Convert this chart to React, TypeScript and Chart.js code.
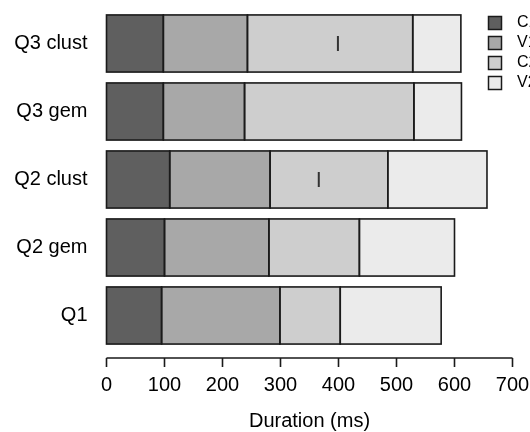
import React, { useEffect, useRef } from 'react';
import { Chart, registerables } from 'chart.js';

Chart.register(...registerables);

const categories = ['Q3 clust', 'Q3 gem', 'Q2 clust', 'Q2 gem', 'Q1'];
const seriesNames = ['C1', 'V1', 'C2', 'V2'];
const c1Values = [98, 98, 109, 100, 95];
const v1Values = [145, 140, 173, 180, 204];
const c2Values = [285, 292, 203, 156, 104];
const v2Values = [83, 82, 171, 164, 174];
const errorMarks: (number | null)[] = [399, null, 366, null, null];
const xTickValues = [0, 100, 200, 300, 400, 500, 600, 700];
const seriesColors = ['#5f5f5f', '#a8a8a8', '#cecece', '#ebebeb'];

const FONT = "'Liberation Sans', Arial, Helvetica, sans-serif";

const drawPlugin = {
  id: 'rstyle',
  afterDatasetsDraw(chart: any) {
    const ctx = chart.ctx as CanvasRenderingContext2D;
    const xs = chart.scales.x;
    const ys = chart.scales.y;
    ctx.save();
    // bar outlines
    ctx.strokeStyle = '#1a1a1a';
    ctx.lineWidth = 1.6;
    chart.data.datasets.forEach((_: any, i: number) => {
      const meta = chart.getDatasetMeta(i);
      meta.data.forEach((el: any) => {
        const { x, y, base, height } = el.getProps(['x', 'y', 'base', 'height'], true);
        ctx.strokeRect(Math.min(base, x), y - height / 2, Math.abs(x - base), height);
      });
    });
    // error marks
    ctx.strokeStyle = '#333';
    ctx.lineWidth = 2;
    errorMarks.forEach((v, i) => {
      if (v == null) return;
      const px = xs.getPixelForValue(v);
      const py = ys.getPixelForValue(i);
      ctx.beginPath();
      ctx.moveTo(px, py - 7.5);
      ctx.lineTo(px, py + 7.5);
      ctx.stroke();
    });
    // x axis line with ticks
    const ay = chart.chartArea.bottom + 8.5;
    ctx.strokeStyle = '#1a1a1a';
    ctx.lineWidth = 1.6;
    ctx.beginPath();
    ctx.moveTo(xs.getPixelForValue(xTickValues[0]), ay);
    ctx.lineTo(xs.getPixelForValue(xTickValues[xTickValues.length - 1]), ay);
    xTickValues.forEach((v) => {
      const px = xs.getPixelForValue(v);
      ctx.moveTo(px, ay);
      ctx.lineTo(px, ay + 9);
    });
    ctx.stroke();
    // legend
    ctx.font = `16px ${FONT}`;
    ctx.textBaseline = 'middle';
    ctx.textAlign = 'left';
    seriesNames.forEach((name, i) => {
      const cy = 23 + i * 20;
      ctx.fillStyle = seriesColors[i];
      ctx.fillRect(488.5, cy - 6.5, 13, 13);
      ctx.strokeStyle = '#1a1a1a';
      ctx.lineWidth = 1.5;
      ctx.strokeRect(488.5, cy - 6.5, 13, 13);
      ctx.fillStyle = '#000';
      ctx.fillText(name, 517, cy);
    });
    ctx.restore();
  },
};

export default function App() {
  const canvasRef = useRef<HTMLCanvasElement | null>(null);

  useEffect(() => {
    if (!canvasRef.current) return;
    const seriesData = [c1Values, v1Values, c2Values, v2Values];
    const chart = new Chart(canvasRef.current, {
      type: 'bar',
      data: {
        labels: categories,
        datasets: seriesNames.map((name, i) => ({
          label: name,
          data: seriesData[i],
          backgroundColor: seriesColors[i],
          borderWidth: 0,
          barPercentage: 0.84,
          categoryPercentage: 1,
        })),
      },
      options: {
        indexAxis: 'y',
        responsive: false,
        animation: false,
        devicePixelRatio: 1,
        events: [],
        layout: { padding: { top: 9.5, right: 17.5, bottom: 0, left: 0 } },
        plugins: {
          legend: { display: false },
          tooltip: { enabled: false },
        },
        scales: {
          x: {
            type: 'linear',
            stacked: true,
            min: 0,
            max: 700,
            grid: { display: false, drawTicks: false },
            border: { display: false },
            afterBuildTicks: (axis: any) => {
              axis.ticks = xTickValues.map((v) => ({ value: v }));
            },
            afterFit: (axis: any) => {
              axis.height = 82.5;
              axis.paddingLeft = 0;
              axis.paddingRight = 0;
            },
            ticks: {
              padding: 23.5,
              color: '#000',
              maxRotation: 0,
              font: { family: FONT, size: 20 },
            },
            title: {
              display: true,
              text: 'Duration (ms)',
              color: '#000',
              font: { family: FONT, size: 20, lineHeight: 1 },
              padding: { top: 0, bottom: 1 },
            },
          },
          y: {
            type: 'category',
            stacked: true,
            grid: { display: false, drawTicks: false },
            border: { display: false },
            afterFit: (axis: any) => {
              axis.width = 106.5;
              axis.paddingTop = 0;
              axis.paddingBottom = 0;
            },
            ticks: {
              padding: 19,
              color: '#000',
              font: { family: FONT, size: 20 },
            },
          },
        },
      },
      plugins: [drawPlugin],
    });
    return () => chart.destroy();
  }, []);

  return (
    <div style={{ position: 'absolute', left: 0, top: 0, width: 530, height: 432, background: '#fff' }}>
      <canvas ref={canvasRef} width={530} height={432} />
    </div>
  );
}
